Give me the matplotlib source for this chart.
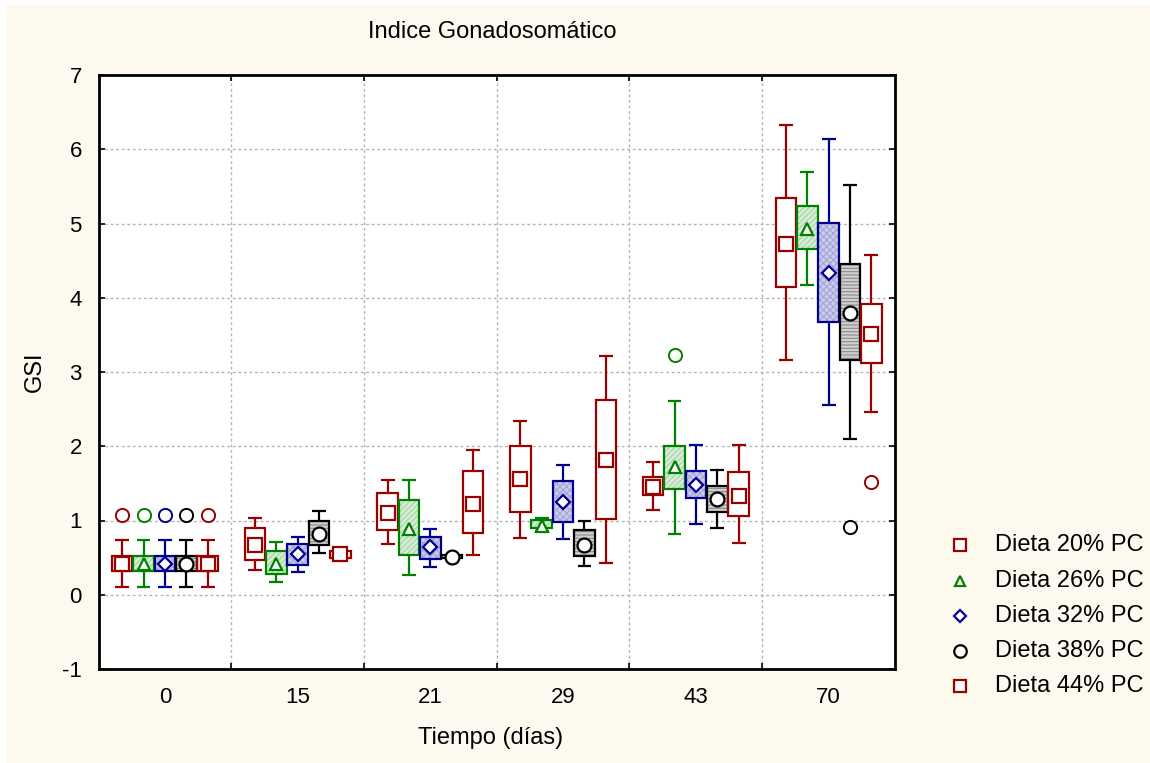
import matplotlib
matplotlib.use('Agg')
import matplotlib.pyplot as plt
from matplotlib.patches import Rectangle
from matplotlib.lines import Line2D
import numpy as np

plt.rcParams['font.family'] = ['Liberation Sans', 'DejaVu Sans']
plt.rcParams['hatch.linewidth'] = 0.8
plt.rcParams['axes.unicode_minus'] = False

# ---------------- data ----------------
times = ['0', '15', '21', '29', '43', '70']
series = ['Dieta 20% PC', 'Dieta 26% PC', 'Dieta 32% PC', 'Dieta 38% PC', 'Dieta 44% PC']

whisker_low = [
    [0.11, 0.34, 0.69, 0.77, 1.14, 3.16],
    [0.11, 0.17, 0.26, 0.86, 0.82, 4.17],
    [0.11, 0.31, 0.37, 0.75, 0.95, 2.55],
    [0.11, 0.56, 0.49, 0.39, 0.90, 2.10],
    [0.11, 0.49, 0.53, 0.43, 0.70, 2.46],
]
box_low = [
    [0.32, 0.47, 0.87, 1.11, 1.35, 4.15],
    [0.32, 0.28, 0.53, 0.90, 1.42, 4.65],
    [0.32, 0.40, 0.48, 0.98, 1.30, 3.68],
    [0.32, 0.67, 0.50, 0.52, 1.11, 3.16],
    [0.32, 0.50, 0.83, 1.02, 1.06, 3.12],
]
center = [
    [0.42, 0.67, 1.10, 1.56, 1.45, 4.73],
    [0.42, 0.42, 0.89, 0.93, 1.72, 4.92],
    [0.42, 0.55, 0.64, 1.25, 1.48, 4.34],
    [0.42, 0.82, 0.51, 0.67, 1.29, 3.79],
    [0.42, 0.55, 1.22, 1.81, 1.33, 3.51],
]
box_high = [
    [0.52, 0.90, 1.37, 2.01, 1.59, 5.35],
    [0.52, 0.59, 1.28, 1.01, 2.00, 5.23],
    [0.52, 0.69, 0.78, 1.53, 1.67, 5.01],
    [0.52, 1.00, 0.53, 0.87, 1.46, 4.46],
    [0.52, 0.59, 1.66, 2.62, 1.65, 3.91],
]
whisker_high = [
    [0.74, 1.03, 1.55, 2.34, 1.79, 6.33],
    [0.74, 0.71, 1.55, 1.03, 2.61, 5.70],
    [0.74, 0.78, 0.89, 1.75, 2.02, 6.14],
    [0.74, 1.13, 0.54, 1.00, 1.68, 5.52],
    [0.74, 0.60, 1.95, 3.21, 2.02, 4.57],
]
outlier_series = [0, 1, 2, 3, 4, 1, 3, 4]
outlier_group = [0, 0, 0, 0, 0, 4, 5, 5]
outlier_value = [1.07, 1.07, 1.07, 1.07, 1.07, 3.23, 0.91, 1.52]

# ---------------- style ----------------
edge_colors = ['#990000', '#008000', '#00008f', '#000000', '#990000']
fill_colors = ['white', '#d6edd6', '#cbcbec', '#d0d0d0', 'white']
hatch_colors = ['white', '#a3d3a3', '#a4a4d8', '#8a8a8a', 'white']
hatches = [None, '//////', 'xxxxx', '-----', None]
markers = ['s', '^', 'D', 'o', 's']
marker_sizes = [9.5, 8.5, 7, 10, 9.5]
legend_sizes = [8.5, 7.5, 6, 9, 8.5]

W, H = 1150, 763
fig = plt.figure(figsize=(W / 100, H / 100), dpi=100, facecolor='white')
fig.add_artist(Rectangle((6 / W, 0), 1, (H - 5) / H, transform=fig.transFigure,
                         facecolor='#fdf9ee', edgecolor='none', zorder=-10))

ax = fig.add_axes([98.5 / W, 1 - 669 / H, (895 - 98.5) / W, (669 - 75) / H])
ax.set_facecolor('white')

ngroups = len(times)
base = np.arange(ngroups)
step = 0.161
bw = 0.155
cap = 0.052
lw = 1.6

for i in range(len(series)):
    x = base + (i - 2) * step
    lo = np.array(box_low[i])
    hi = np.array(box_high[i])
    ec = edge_colors[i]
    ax.vlines(x, whisker_low[i], lo, color=ec, lw=lw, zorder=2)
    ax.vlines(x, hi, whisker_high[i], color=ec, lw=lw, zorder=2)
    ax.hlines(whisker_low[i], x - cap, x + cap, color=ec, lw=lw, zorder=2)
    ax.hlines(whisker_high[i], x - cap, x + cap, color=ec, lw=lw, zorder=2)
    ax.bar(x, hi - lo, bottom=lo, width=bw, color=fill_colors[i],
           edgecolor=hatch_colors[i], linewidth=0, hatch=hatches[i], zorder=3)
    ax.bar(x, hi - lo, bottom=lo, width=bw, fill=False,
           edgecolor=ec, linewidth=lw, zorder=4)
    ax.plot(x, center[i], ls='none', marker=markers[i], ms=marker_sizes[i],
            mfc='white', mec=ec, mew=lw, zorder=5)

for s, g, v in zip(outlier_series, outlier_group, outlier_value):
    ax.plot(g + (s - 2) * step, v, ls='none', marker='o', ms=9.5,
            mfc='none', mec=edge_colors[s], mew=1.4, zorder=5)

ax.set_xlim(-0.5, ngroups - 0.5)
ax.set_ylim(-1, 7)
ax.set_yticks(range(-1, 8))
ax.set_xticks(base)
ax.set_xticklabels(times)
ax.set_xticks(base[:-1] + 0.5, minor=True)
ax.tick_params(axis='x', which='major', length=0, pad=13, labelsize=16)
ax.tick_params(axis='x', which='minor', direction='in', length=4, width=1.2,
               top=True, bottom=True)
ax.tick_params(axis='y', which='major', direction='in', length=4, width=1.2,
               left=True, right=True, pad=12, labelsize=16)
ax.grid(axis='x', which='minor', color='#b4b4b4', lw=1.0, ls=(0, (2, 2)), zorder=0)
ax.grid(axis='y', which='major', color='#b4b4b4', lw=1.0, ls=(0, (2, 2)), zorder=0)
ax.set_axisbelow(True)
for sp in ax.spines.values():
    sp.set_linewidth(2)
    sp.set_color('black')

fig.text(492 / W, 1 - 32 / H, 'Indice Gonadosomático', ha='center', va='center', fontsize=17)
fig.text(491 / W, 1 - 738 / H, 'Tiempo (días)', ha='center', va='center', fontsize=17)
fig.text(35 / W, 1 - 372 / H, 'GSI', ha='center', va='center', rotation=90, fontsize=17)

row_y = [545, 581, 616, 651, 686]
for i, name in enumerate(series):
    y = 1 - row_y[i] / H
    fig.add_artist(Line2D([960 / W], [y], transform=fig.transFigure, ls='none',
                          marker=markers[i], ms=legend_sizes[i], mfc='white',
                          mec=edge_colors[i], mew=1.6))
    fig.text(995 / W, y, name, ha='left', va='center', fontsize=17)

fig.savefig('out.png', dpi=100, facecolor='white')
